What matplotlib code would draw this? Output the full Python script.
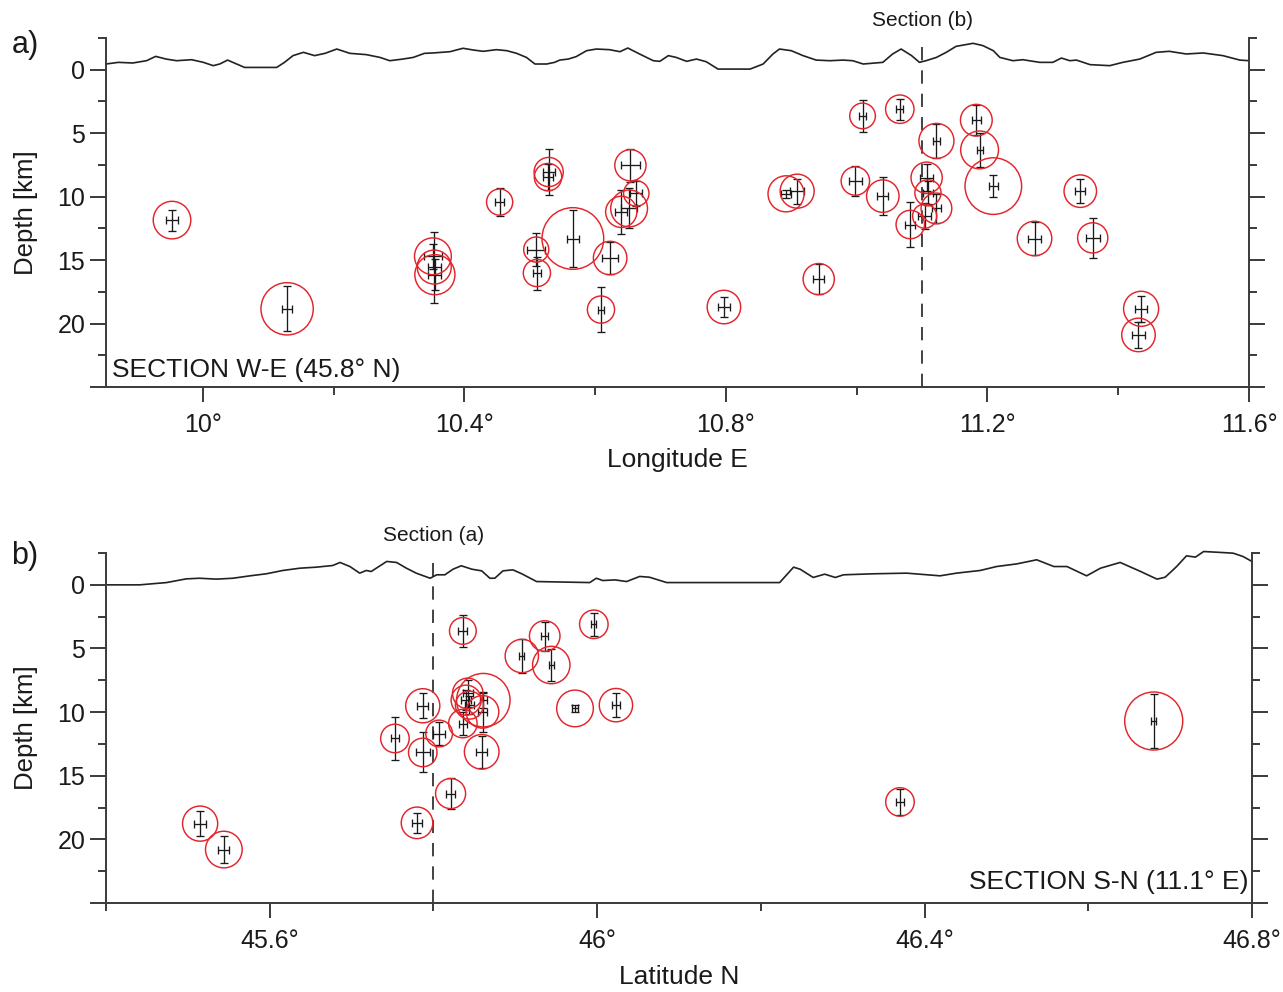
import numpy as np
import matplotlib
matplotlib.use("Agg")
import matplotlib.pyplot as plt
from matplotlib.ticker import FixedLocator, FuncFormatter

plt.rcParams["font.family"] = ["Liberation Sans", "DejaVu Sans"]

# ---- Section W-E (a): topography (elevation in km) ----
topo_a_lon = [9.852, 9.871, 9.893, 9.914, 9.928, 9.944, 9.960, 9.983, 10.001, 10.016, 10.026,
              10.038, 10.046, 10.064, 10.113, 10.125, 10.138, 10.154, 10.171, 10.187, 10.205,
              10.225, 10.250, 10.271, 10.286, 10.306, 10.322, 10.339, 10.352, 10.378, 10.398,
              10.414, 10.429, 10.449, 10.465, 10.480, 10.495, 10.508, 10.526, 10.538, 10.546,
              10.559, 10.571, 10.587, 10.602, 10.622, 10.638, 10.650, 10.668, 10.689, 10.699,
              10.712, 10.724, 10.740, 10.755, 10.770, 10.788, 10.837, 10.857, 10.872, 10.882,
              10.900, 10.918, 10.938, 10.959, 10.979, 10.994, 11.010, 11.040, 11.055, 11.068,
              11.084, 11.096, 11.106, 11.122, 11.137, 11.152, 11.178, 11.193, 11.209, 11.219,
              11.239, 11.254, 11.280, 11.300, 11.313, 11.326, 11.336, 11.357, 11.387, 11.407,
              11.433, 11.458, 11.478, 11.504, 11.530, 11.560, 11.586, 11.600]
topo_a_elev = [0.45, 0.58, 0.53, 0.71, 1.05, 0.84, 0.71, 0.79, 0.58, 0.32, 0.45,
               0.76, 0.58, 0.18, 0.18, 0.58, 1.11, 1.37, 1.11, 1.29, 1.63,
               1.29, 1.19, 0.97, 0.71, 0.84, 0.97, 1.29, 1.32, 1.42, 1.69,
               1.55, 1.45, 1.58, 1.50, 1.29, 0.97, 0.45, 0.45, 0.58, 0.76,
               0.84, 1.03, 1.50, 1.63, 1.58, 1.42, 1.71, 1.24, 0.71, 0.66,
               1.11, 0.97, 0.66, 0.84, 0.63, 0.05, 0.05, 0.45, 1.24, 1.63,
               1.50, 1.11, 0.76, 0.71, 0.76, 0.71, 0.45, 0.58, 1.24, 1.63,
               1.11, 0.58, 0.71, 0.97, 1.37, 1.84, 2.08, 1.90, 1.50, 0.97,
               0.71, 0.79, 0.58, 0.58, 0.92, 0.71, 0.76, 0.40, 0.32, 0.58,
               0.84, 1.37, 1.45, 1.24, 1.32, 1.11, 0.76, 0.71]

# ---- Section W-E (a): hypocentres ----
ev_a_lon = [9.953, 10.129, 10.352, 10.354, 10.355, 10.454, 10.529, 10.528, 10.510, 10.511,
            10.566, 10.623, 10.654, 10.663, 10.640, 10.652, 10.609, 10.797, 10.942, 10.892,
            10.909, 10.998, 11.009, 11.066, 11.040, 11.122, 11.183, 11.188, 11.209, 11.107,
            11.109, 11.122, 11.104, 11.082, 11.342, 11.272, 11.361, 11.435, 11.431]
ev_a_depth = [11.85, 18.84, 14.70, 15.55, 16.15, 10.43, 8.06, 8.46, 14.17, 16.02,
              13.30, 14.84, 7.53, 9.75, 11.20, 10.93, 18.90, 18.70, 16.50, 9.78,
              9.57, 8.77, 3.64, 3.11, 9.96, 5.61, 3.98, 6.32, 9.17, 8.51,
              9.70, 10.93, 11.54, 12.20, 9.57, 13.30, 13.25, 18.84, 20.90]
ev_a_lon_err = [0.009, 0.008, 0.014, 0.010, 0.010, 0.007, 0.009, 0.007, 0.0135, 0.006,
                0.0094, 0.012, 0.0148, 0.009, 0.009, 0.012, 0.005, 0.009, 0.0084, 0.008,
                0.011, 0.0097, 0.006, 0.0056, 0.0084, 0.005, 0.007, 0.0046, 0.0064, 0.0094,
                0.0076, 0.007, 0.010, 0.0076, 0.0076, 0.010, 0.0107, 0.0089, 0.010]
ev_a_depth_err = [0.83, 1.78, 1.00, 2.80, 1.20, 1.10, 1.78, 1.00, 1.30, 1.30,
                  2.24, 1.29, 1.32, 0.95, 1.71, 1.58, 1.74, 0.82, 1.19, 0.30,
                  0.99, 1.19, 1.25, 0.83, 1.50, 1.32, 1.19, 1.32, 0.86, 1.05,
                  0.92, 1.12, 1.05, 1.74, 0.92, 1.29, 1.58, 1.01, 1.05]
ev_a_radius_km = [1.48, 2.06, 1.45, 1.34, 1.58, 1.03, 1.15, 1.08, 0.99, 1.07,
                  2.43, 1.32, 1.23, 1.00, 1.23, 1.45, 1.07, 1.32, 1.23, 1.42,
                  1.34, 1.12, 1.01, 1.12, 1.28, 1.38, 1.25, 1.49, 2.23, 1.23,
                  1.03, 1.21, 0.95, 1.12, 1.28, 1.36, 1.19, 1.38, 1.32]

# ---- Section S-N (b): topography ----
topo_b_lat = [45.400, 45.441, 45.474, 45.498, 45.514, 45.535, 45.555, 45.576, 45.596, 45.616,
              45.637, 45.657, 45.677, 45.686, 45.698, 45.710, 45.718, 45.724, 45.743, 45.755,
              45.767, 45.779, 45.796, 45.804, 45.814, 45.824, 45.834, 45.847, 45.859, 45.869,
              45.875, 45.885, 45.897, 45.908, 45.926, 45.991, 45.999, 46.007, 46.022, 46.036,
              46.052, 46.064, 46.085, 46.195, 46.223, 46.240, 46.248, 46.264, 46.278, 46.291,
              46.301, 46.338, 46.378, 46.419, 46.439, 46.468, 46.488, 46.513, 46.537, 46.558,
              46.574, 46.598, 46.615, 46.639, 46.664, 46.684, 46.694, 46.708, 46.720, 46.731,
              46.741, 46.761, 46.777, 46.789, 46.800]
topo_b_elev = [0.00, 0.00, 0.18, 0.47, 0.52, 0.45, 0.52, 0.71, 0.87, 1.13,
               1.31, 1.39, 1.52, 1.76, 1.44, 0.92, 1.13, 1.05, 1.84, 1.76,
               1.31, 0.92, 0.52, 0.79, 0.79, 1.23, 1.50, 1.23, 1.10, 0.52,
               0.52, 1.10, 1.18, 0.87, 0.26, 0.18, 0.52, 0.34, 0.39, 0.26,
               0.66, 0.60, 0.18, 0.18, 0.18, 1.39, 1.23, 0.58, 0.84, 0.58,
               0.79, 0.87, 0.92, 0.71, 0.92, 1.13, 1.44, 1.65, 1.97, 1.44,
               1.44, 0.71, 1.31, 1.76, 1.05, 0.45, 0.60, 1.44, 2.28, 2.18,
               2.62, 2.55, 2.49, 2.23, 1.84]

# ---- Section S-N (b): hypocentres ----
ev_b_lat = [45.515, 45.544, 45.780, 45.753, 45.787, 45.787, 45.807, 45.836, 45.821, 45.908,
            45.936, 45.944, 45.996, 45.973, 46.023, 45.859, 45.861, 45.842, 45.840, 45.860,
            45.836, 45.844, 46.370, 46.680]
ev_b_depth = [18.76, 20.80, 18.70, 12.07, 9.50, 13.17, 11.68, 3.62, 16.40, 5.59,
              4.02, 6.30, 3.10, 9.71, 9.45, 13.12, 9.06, 8.53, 9.06, 9.98,
              10.90, 9.45, 17.06, 10.70]
ev_b_lat_err = [0.0075, 0.0067, 0.006, 0.005, 0.007, 0.0086, 0.007, 0.0055, 0.006, 0.003,
                0.004, 0.003, 0.003, 0.004, 0.005, 0.007, 0.004, 0.006, 0.006, 0.006,
                0.005, 0.006, 0.005, 0.003]
ev_b_depth_err = [0.96, 1.09, 0.80, 1.68, 0.98, 1.57, 0.92, 1.25, 1.25, 1.34,
                  1.14, 1.27, 0.92, 0.25, 0.94, 1.25, 0.60, 1.05, 0.80, 1.57,
                  0.92, 0.70, 1.05, 2.14]
ev_b_radius_km = [1.38, 1.44, 1.24, 1.12, 1.34, 1.12, 1.05, 1.05, 1.18, 1.31,
                  1.20, 1.47, 1.12, 1.44, 1.31, 1.36, 2.10, 1.20, 1.18, 1.28,
                  1.12, 1.10, 1.12, 2.28]

lon_ticks = [10.0, 10.4, 10.8, 11.2, 11.6]
lon_minor = [10.2, 10.6, 11.0, 11.4]
lat_ticks = [45.6, 46.0, 46.4, 46.8]
lat_minor = [45.4, 45.8, 46.2, 46.6]
depth_ticks = [0, 5, 10, 15, 20, 25]
depth_minor = [-2.5, 2.5, 7.5, 12.5, 17.5, 22.5]

DPI = 100
fig = plt.figure(figsize=(12.83, 9.92), dpi=DPI)
ax_a = fig.add_axes([0.0826, 0.6099, 0.8909, 0.3518])
ax_b = fig.add_axes([0.0826, 0.0897, 0.8932, 0.3528])

spine_col = "#3a3a3a"
txt_col = "#1a1a1a"


def style_axes(ax, xlim, xmaj, xmin, xlabel):
    ax.set_xlim(*xlim)
    ax.set_ylim(25, -2.5)
    ax.spines["top"].set_visible(False)
    for s in ["left", "right", "bottom"]:
        ax.spines[s].set_color(spine_col)
        ax.spines[s].set_linewidth(1.4)
    ax.xaxis.set_major_locator(FixedLocator(xmaj))
    ax.xaxis.set_minor_locator(FixedLocator(xmin))
    ax.xaxis.set_major_formatter(FuncFormatter(lambda v, p: f"{v:g}\u00b0"))
    ax.yaxis.set_major_locator(FixedLocator(depth_ticks))
    ax.yaxis.set_minor_locator(FixedLocator(depth_minor))
    ax.yaxis.set_major_formatter(FuncFormatter(lambda v, p: "" if v > 22 else f"{v:g}"))
    ax.tick_params(axis="y", which="both", direction="out", left=True, right=True,
                   labelright=False, color=spine_col, width=1.4, labelsize=18,
                   labelcolor=txt_col, pad=3.5)
    ax.tick_params(axis="y", which="major", length=11.5)
    ax.tick_params(axis="y", which="minor", length=6)
    ax.tick_params(axis="x", which="both", direction="out", top=False, color=spine_col,
                   width=1.4, labelsize=18, labelcolor=txt_col, pad=8)
    ax.tick_params(axis="x", which="major", length=11)
    ax.tick_params(axis="x", which="minor", length=5.5)
    ax.set_xlabel(xlabel, fontsize=19, color=txt_col, labelpad=8)
    ax.set_ylabel("Depth [km]", fontsize=18.5, color=txt_col, labelpad=14)


def draw_events(ax, x, d, xe, de, rad):
    # circle size given in depth km -> convert to points via the axis transform
    p0 = ax.transData.transform((x[0], 0.0))
    sizes = []
    for r in rad:
        p1 = ax.transData.transform((x[0], r))
        r_pt = abs(p1[1] - p0[1]) * 72.0 / DPI
        sizes.append((2 * r_pt) ** 2)
    ax.errorbar(x, d, xerr=xe, yerr=de, fmt="none", ecolor="#1a1a1a", elinewidth=0.95,
                capsize=3, capthick=0.95, zorder=3)
    ax.scatter(x, d, s=sizes, facecolors="none", edgecolors="#e3242b", linewidths=1.05,
               zorder=4)


# panel a
style_axes(ax_a, (9.852, 11.6), lon_ticks, lon_minor, "Longitude E")
ax_a.plot(topo_a_lon, -np.array(topo_a_elev), color="#222222", lw=1.2, clip_on=False)
ax_a.axvline(11.1, color="#222222", lw=1.2, ls=(0, (8, 6)), zorder=2)
draw_events(ax_a, ev_a_lon, ev_a_depth, ev_a_lon_err, ev_a_depth_err, ev_a_radius_km)
ax_a.annotate("Section (b)", xy=(11.1, 1), xycoords=("data", "axes fraction"),
              xytext=(0, 6), textcoords="offset points", ha="center", va="bottom",
              fontsize=15, color=txt_col)
ax_a.text(0.005, 0.015, "SECTION W-E (45.8\u00b0 N)", transform=ax_a.transAxes,
          ha="left", va="bottom", fontsize=19, color=txt_col)

# panel b
style_axes(ax_b, (45.4, 46.8), lat_ticks, lat_minor, "Latitude N")
ax_b.plot(topo_b_lat, -np.array(topo_b_elev), color="#222222", lw=1.2, clip_on=False)
ax_b.axvline(45.8, color="#222222", lw=1.2, ls=(0, (8, 6)), zorder=2)
draw_events(ax_b, ev_b_lat, ev_b_depth, ev_b_lat_err, ev_b_depth_err, ev_b_radius_km)
ax_b.annotate("Section (a)", xy=(45.8, 1), xycoords=("data", "axes fraction"),
              xytext=(0, 6), textcoords="offset points", ha="center", va="bottom",
              fontsize=15, color=txt_col)
ax_b.text(0.997, 0.025, "SECTION S-N (11.1\u00b0 E)", transform=ax_b.transAxes,
          ha="right", va="bottom", fontsize=19, color=txt_col)

fig.text(0.009, 1 - 45 / 992, "a)", fontsize=22, va="center", ha="left", color=txt_col)
fig.text(0.009, 1 - 556 / 992, "b)", fontsize=22, va="center", ha="left", color=txt_col)

fig.savefig("out.png", dpi=DPI)
